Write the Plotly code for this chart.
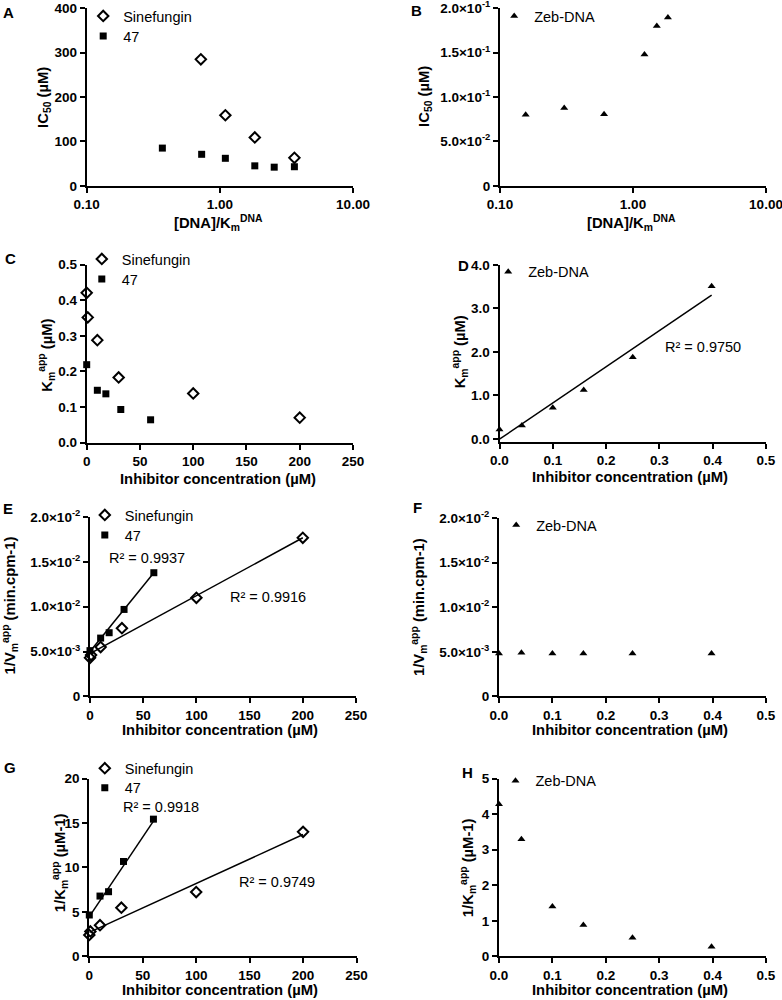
import plotly.graph_objects as go

W, H = 782, 1000
FONT = "Liberation Sans, Arial, sans-serif"

# ---- values ----
# A: IC50 against [DNA]/Km
a_sin_x = [0.72, 1.10, 1.83, 3.63]
a_sin_y = [285, 159, 109, 63]
a_47_x = [0.37, 0.73, 1.10, 1.83, 2.56, 3.63]
a_47_y = [85, 71, 62, 45, 42, 43]

# B: IC50 of Zeb-DNA
b_zeb_x = [0.156, 0.304, 0.606, 1.22, 1.51, 1.83]
b_zeb_y = [0.080, 0.0876, 0.0805, 0.148, 0.180, 0.1895]

# inhibitor concentrations
sin_conc = [0, 1, 10, 30, 100, 200]
c47_conc = [0, 10, 18, 32, 60]
zeb_conc = [0, 0.042, 0.1, 0.158, 0.25, 0.398]

# C: Km app
c_sin_y = [0.421, 0.352, 0.288, 0.183, 0.138, 0.070]
c_47_y = [0.219, 0.147, 0.137, 0.093, 0.064]

# D: Km app, Zeb-DNA, with linear fit
d_zeb_y = [0.215, 0.307, 0.713, 1.126, 1.877, 3.51]
d_fit_x = [0, 0.398]
d_fit_y = [-0.01, 3.31]

# E: 1/Vm app
e_sin_y = [0.0043, 0.0046, 0.0055, 0.0076, 0.0110, 0.0177]
e_47_y = [0.0051, 0.0065, 0.0071, 0.0097, 0.0138]
e_sin_fit_x = [0, 200]
e_sin_fit_y = [0.00476, 0.0177]
e_47_fit_x = [0, 60]
e_47_fit_y = [0.0050, 0.0138]

# F: 1/Vm app, Zeb-DNA
f_zeb_y = [0.0048, 0.0049, 0.0048, 0.0048, 0.0048, 0.0048]

# G: 1/Km app
g_sin_y = [2.4, 2.8, 3.5, 5.47, 7.23, 14.0]
g_47_y = [4.65, 6.78, 7.27, 10.67, 15.43]
g_sin_fit_x = [0, 200]
g_sin_fit_y = [2.7, 13.7]
g_47_fit_x = [0, 60]
g_47_fit_y = [4.46, 15.2]

# H: 1/Km app, Zeb-DNA
h_zeb_y = [4.28, 3.29, 1.40, 0.88, 0.524, 0.27]

sci_labels_b = ["0", "5.0×10<sup>-2</sup>", "1.0×10<sup>-1</sup>",
                "1.5×10<sup>-1</sup>", "2.0×10<sup>-1</sup>"]
sci_labels_ef = ["0", "5.0×10<sup>-3</sup>", "1.0×10<sup>-2</sup>",
                 "1.5×10<sup>-2</sup>", "2.0×10<sup>-2</sup>"]


def px(x):
    return x / W


def py(y):
    return 1 - y / H


# panel boxes in pixels: left, right, top, bottom
panels = {
    "A": (86.7, 353, 7.3, 185),
    "B": (500, 766, 7.3, 185),
    "C": (86.7, 353, 264, 442),
    "D": (499.5, 766, 264.3, 441.7),
    "E": (90, 356, 516.7, 696),
    "F": (499, 766, 517.7, 696),
    "G": (89.3, 356.5, 778.3, 956.3),
    "H": (499, 766, 778.3, 956.3),
}

MK_SIN = dict(symbol="diamond-open", size=8, color="black", line=dict(width=2, color="black"))
MK_47 = dict(symbol="square", size=7, color="black")
MK_ZEB = dict(symbol="triangle-up", size=7, color="black")

fig = go.Figure()
legends = {}   # legend id -> (symbol centre x, row centre y) in pixels


def axis_style(**kw):
    base = dict(
        showline=True, linecolor="black", linewidth=2,
        ticks="outside", ticklen=5, tickwidth=2, tickcolor="black",
        showgrid=False, zeroline=False, automargin=False,
        ticklabeloverflow="allow",
        tickfont=dict(family=FONT, size=13.5, color="black", weight="bold"),
    )
    base.update(kw)
    return base


def add_pts(i, x, y, name, marker, leg_xy):
    leg = "legend" if not legends else f"legend{len(legends) + 1}"
    legends[leg] = leg_xy
    fig.add_trace(go.Scatter(
        x=x, y=y, mode="markers", name=name, marker=marker,
        xaxis=f"x{i}", yaxis=f"y{i}", legend=leg, cliponaxis=False,
    ))


def add_fit(i, x, y):
    fig.add_trace(go.Scatter(
        x=x, y=y, mode="lines", line=dict(color="black", width=1.5),
        xaxis=f"x{i}", yaxis=f"y{i}", showlegend=False, hoverinfo="skip",
    ))


# traces
add_pts(1, a_sin_x, a_sin_y, "Sinefungin", MK_SIN, (101.7, 15.7))
add_pts(1, a_47_x, a_47_y, "47", MK_47, (101.7, 36))
add_pts(2, b_zeb_x, b_zeb_y, "Zeb-DNA", MK_ZEB, (512.7, 15))
add_pts(3, sin_conc, c_sin_y, "Sinefungin", MK_SIN, (100.3, 259))
add_pts(3, c47_conc, c_47_y, "47", MK_47, (100.3, 279))
add_fit(4, d_fit_x, d_fit_y)
add_pts(4, zeb_conc, d_zeb_y, "Zeb-DNA", MK_ZEB, (506.7, 271.7))
add_fit(5, e_sin_fit_x, e_sin_fit_y)
add_fit(5, e_47_fit_x, e_47_fit_y)
add_pts(5, sin_conc, e_sin_y, "Sinefungin", MK_SIN, (103.3, 515))
add_pts(5, c47_conc, e_47_y, "47", MK_47, (103.3, 535))
add_pts(6, zeb_conc, f_zeb_y, "Zeb-DNA", MK_ZEB, (514.7, 525))
add_fit(7, g_sin_fit_x, g_sin_fit_y)
add_fit(7, g_47_fit_x, g_47_fit_y)
add_pts(7, sin_conc, g_sin_y, "Sinefungin", MK_SIN, (103.3, 768.3))
add_pts(7, c47_conc, g_47_y, "47", MK_47, (103.3, 787.7))
add_pts(8, zeb_conc, h_zeb_y, "Zeb-DNA", MK_ZEB, (514, 780.7))

# axes
layout = {}
for i, k in enumerate("ABCDEFGH", start=1):
    l, r, t, b = panels[k]
    sfx = "" if i == 1 else str(i)
    layout[f"xaxis{sfx}"] = dict(domain=[px(l), px(r)], anchor=f"y{i}")
    layout[f"yaxis{sfx}"] = dict(domain=[py(b), py(t)], anchor=f"x{i}")

log_x = dict(type="log", range=[-1, 1], tickvals=[0.1, 1, 10],
             ticktext=["0.10", "1.00", "10.00"])
conc_x = dict(range=[0, 250], tickvals=[0, 50, 100, 150, 200, 250])
zeb_x = dict(range=[0, 0.5], tickvals=[0, 0.1, 0.2, 0.3, 0.4, 0.5], tickformat=".1f")

for i, xs in zip(range(1, 9), [log_x, log_x, conc_x, zeb_x, conc_x, zeb_x, conc_x, zeb_x]):
    sfx = "" if i == 1 else str(i)
    layout[f"xaxis{sfx}"].update(axis_style(**xs))

ys = [
    dict(range=[0, 400], tickvals=[0, 100, 200, 300, 400]),
    dict(range=[0, 0.2], tickvals=[0, 0.05, 0.1, 0.15, 0.2], ticktext=sci_labels_b),
    dict(range=[0, 0.5], tickvals=[0, 0.1, 0.2, 0.3, 0.4, 0.5], tickformat=".1f"),
    dict(range=[-0.08, 4.0], tickvals=[0, 1, 2, 3, 4], tickformat=".1f"),
    dict(range=[0, 0.02], tickvals=[0, 0.005, 0.01, 0.015, 0.02], ticktext=sci_labels_ef),
    dict(range=[0, 0.02], tickvals=[0, 0.005, 0.01, 0.015, 0.02], ticktext=sci_labels_ef),
    dict(range=[0, 20], tickvals=[0, 5, 10, 15, 20]),
    dict(range=[0, 5], tickvals=[0, 1, 2, 3, 4, 5]),
]
for i, yk in enumerate(ys, start=1):
    sfx = "" if i == 1 else str(i)
    layout[f"yaxis{sfx}"].update(axis_style(**yk))

# one legend per entry so each row can sit where the reference has it
for leg, (lx, ly) in legends.items():
    layout[leg] = dict(
        x=px(lx - 18.5), y=py(ly - 16), xanchor="left", yanchor="top",
        bgcolor="rgba(0,0,0,0)", borderwidth=0,
        font=dict(family=FONT, size=14.5, color="black"),
        itemsizing="trace",
    )

fig.update_layout(**layout)

ann = []


def text(x, y, s, size=14.5, bold=False, angle=0, xanchor="center"):
    ann.append(dict(
        x=px(x), y=py(y), xref="paper", yref="paper", text=s, showarrow=False,
        xanchor=xanchor, yanchor="middle", textangle=angle,
        font=dict(family=FONT, size=size, color="black", weight="bold" if bold else "normal"),
    ))


# panel letters
for k, (x, y) in {"A": (8, 12), "B": (416.7, 10), "C": (10, 258), "D": (463, 265),
                  "E": (7.5, 508), "F": (417, 507.5), "G": (10, 767), "H": (467.5, 772.5)}.items():
    text(x, y, k, size=15, bold=True)

# axis titles
TS = 14.8
dna_t = "[DNA]/K<sub>m</sub><sup>DNA</sup>"
inh_t = "Inhibitor concentration (µM)"
for x, y in [(218, 222), (631.7, 222)]:
    text(x, y, dna_t, size=TS, bold=True)
for x, y in [(218, 478), (630, 476.7), (220, 730), (630, 730), (220, 990), (630, 990)]:
    text(x, y, inh_t, size=TS, bold=True)

text(43.3, 96.7, "IC<sub>50</sub> (µM)", size=TS, bold=True, angle=-90)
text(425, 96, "IC<sub>50</sub> (µM)", size=TS, bold=True, angle=-90)
text(46, 355, "K<sub>m</sub><sup>app</sup> (µM)", size=TS, bold=True, angle=-90)
text(460, 351.7, "K<sub>m</sub><sup>app</sup> (µM)", size=TS, bold=True, angle=-90)
text(10, 605, "1/V<sub>m</sub><sup>app</sup> (min.cpm-1)", size=TS, bold=True, angle=-90)
text(419, 606.7, "1/V<sub>m</sub><sup>app</sup> (min.cpm-1)", size=TS, bold=True, angle=-90)
text(60, 863, "1/K<sub>m</sub><sup>app</sup> (µM-1)", size=TS, bold=True, angle=-90)
text(468, 868, "1/K<sub>m</sub><sup>app</sup> (µM-1)", size=TS, bold=True, angle=-90)

# R² labels
text(663.3, 346, "R² = 0.9750", xanchor="left")
text(107.3, 557.3, "R² = 0.9937", xanchor="left")
text(227.7, 596.7, "R² = 0.9916", xanchor="left")
text(120.7, 807, "R² = 0.9918", xanchor="left")
text(236.7, 882.3, "R² = 0.9749", xanchor="left")

fig.update_layout(
    width=W, height=H,
    margin=dict(l=0, r=0, t=0, b=0),
    paper_bgcolor="white", plot_bgcolor="white",
    annotations=ann,
    showlegend=True,
    hovermode="closest",
)

# the page body has a default 8px margin; drop it so the figure fills the window
fig.write_html(
    "out.html",
    config={"displayModeBar": False},
    post_script="document.body.style.margin = '0px';",
)
